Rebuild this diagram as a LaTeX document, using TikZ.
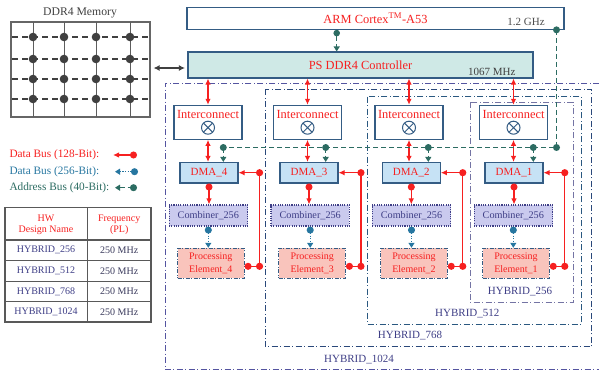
\documentclass[tikz,border=0pt]{standalone}
\usepackage{fontspec}
\setmainfont{Liberation Serif}
\usetikzlibrary{arrows.meta}

\definecolor{busred}{RGB}{246,32,32}
\definecolor{addrteal}{RGB}{44,108,98}
\definecolor{bus256}{RGB}{38,118,160}
\definecolor{boxedge}{RGB}{52,92,132}
\definecolor{navy}{RGB}{62,62,134}
\definecolor{slate}{RGB}{58,58,92}
\definecolor{dmafill}{RGB}{198,226,245}
\definecolor{cmbfill}{RGB}{202,202,238}
\definecolor{pefill}{RGB}{249,196,188}
\definecolor{ctrlfill}{RGB}{207,233,230}
\definecolor{memgrey}{RGB}{64,64,64}
\definecolor{hA}{RGB}{84,84,160}
\definecolor{hB}{RGB}{42,72,122}
\definecolor{hC}{RGB}{42,88,128}
\definecolor{hD}{RGB}{116,116,164}

\tikzset{
  rtip/.tip={Latex[length=6pt,width=5.5pt]},
  ttip/.tip={Triangle[length=5pt,width=6pt]},
  rdot/.tip={Circle[length=7pt]},
  sdot/.tip={Circle[length=6.5pt]},
  fs/.style={font=\fontsize{#1}{#1}\selectfont},
  boxbase/.style={draw=boxedge, line width=1.1pt, inner sep=0pt},
  armbox/.style={boxbase, fill=white, minimum width=377pt, minimum height=22pt, text=busred, fs=12.4},
  ctrlbox/.style={boxbase, fill=ctrlfill, minimum width=345pt, minimum height=26pt, text=busred, fs=12.4},
  icbox/.style={boxbase, fill=white, minimum width=68pt, minimum height=34pt},
  ictext/.style={inner sep=0pt, text=busred, fs=12.4},
  otimes/.style={circle, draw=boxedge, line width=1pt, minimum size=13pt, inner sep=0pt,
    path picture={\draw[boxedge, line width=1pt]
      (path picture bounding box.north west) -- (path picture bounding box.south east)
      (path picture bounding box.north east) -- (path picture bounding box.south west);}},
  dmabox/.style={boxbase, fill=dmafill, minimum width=58pt, minimum height=20.5pt, text=busred, fs=11},
  cmbbox/.style={draw=navy, line width=1.1pt, dash pattern=on 1.1pt off 1.2pt, fill=cmbfill,
    minimum width=78.5pt, minimum height=21pt, inner sep=0pt, text=navy, fs=10.2},
  pebox/.style={draw=boxedge, line width=1pt, dash pattern=on 4pt off 1.5pt on 1pt off 1.5pt,
    fill=pefill, minimum width=66.5pt, minimum height=30pt, inner sep=0pt, text=busred,
    align=center, font=\fontsize{10}{12.5}\selectfont},
  membox/.style={draw=memgrey!80, line width=1.1pt, fill=white, minimum width=139pt, minimum height=95pt, inner sep=0pt},
  hyb/.style={line width=1pt, dash pattern=on 6pt off 2.5pt on 1pt off 2.5pt},
  hyblabel/.style={inner sep=0pt, text=navy, fs=11},
  redbus/.style={draw=busred, line width=1.1pt},
  addrline/.style={draw=addrteal, line width=1.1pt, dash pattern=on 5pt off 3pt},
  bus256line/.style={draw=bus256, line width=1.1pt, dash pattern=on 1.2pt off 1.4pt},
  legtext/.style={anchor=west, inner sep=0pt, fs=11.3},
  tbl/.style={draw=black!65, line width=1.3pt},
  cell/.style={inner sep=0pt, fs=10, align=center},
}

\begin{document}
\begin{tikzpicture}[x=1pt,y=-1pt]
\useasboundingbox (0,0) rectangle (599,375);

% nested accelerator regions
\draw[hyb, hA] (599,83) -- (165,83) -- (165,369.5) -- (599,369.5);
\draw[hyb, hB] (265,89.3) rectangle (591.7,346.7);
\draw[hyb, hC] (367.3,96.7) rectangle (581.7,324.3);
\draw[hyb, hD] (470,102.3) rectangle (573.3,302.7);
\node[hyblabel] (h1024) at (359,359.3) {HYBRID\_1024};
\node[hyblabel] (h768) at (410,336) {HYBRID\_768};
\node[hyblabel] (h512) at (467.3,314) {HYBRID\_512};
\node[hyblabel] (h256) at (520,291.3) {HYBRID\_256};

% off-chip memory
\node[inner sep=0pt, text=black!75, fs=11.7] (memt) at (80,13) {DDR4 Memory};
\node[membox] (mem) at (80.5,69.5) {};
\foreach \x in {33,64,96,130} \draw[memgrey!85, line width=1pt] (\x,22) -- (\x,117);
\foreach \y in {37,59,79,99} \draw[memgrey, line width=1.2pt, dash pattern=on 6pt off 4pt] (12,\y) -- (149,\y);
\foreach \x in {33,64,96,130} \foreach \y in {37,59,79,99} \fill[memgrey] (\x,\y) circle (4.3pt);

% processing system
\node[armbox] (arm) at (375.5,18.3) {ARM Cortex\textsuperscript{TM}-A53};
\node[inner sep=0pt, text=black!70, fs=11] (armf) at (526,21.5) {1.2 GHz};
\node[ctrlbox] (ctrl) at (360.5,65) {PS DDR4 Controller};
\node[inner sep=0pt, text=black!75, fs=11] (ctrlf) at (491.7,71.7) {1067 MHz};

\draw[memgrey, line width=1.6pt, {Latex[length=6pt,width=6pt]}-{Latex[length=6pt,width=6pt]},
  shorten <=3pt, shorten >=2.5pt] (mem.east |- 0,68) -- (ctrl.west |- 0,68);
\draw[addrline, sdot-ttip] (arm.south -| 336.7,0) -- (ctrl.north -| 336.7,0);

% columns: interconnect, DMA, combiner, processing element
\foreach \i/\xi/\xd/\xc/\xp/\xa in {4/208/209/208.3/210.8/223.3, 3/307.5/309/310.2/312.2/325.7,
                                   2/409/411.3/411.5/414/428.3, 1/513.5/514/513.3/516/533.3} {
  \node[icbox] (ic\i) at (\xi,122.3) {};
  \node[ictext] (ict\i) at (\xi,114) {Interconnect};
  \node[otimes] (icx\i) at (\xi,127.7) {};
  \node[dmabox] (dma\i) at (\xd,172.7) {DMA\_\i};
  \node[cmbbox] (cmb\i) at (\xc,215.5) {Combiner\_256};
  \node[pebox] (pe\i) at (\xp,263.3) {Processing\\Element\_\i};
  \coordinate (a\i) at (\xa,147.5);
  \draw[redbus, rtip-rtip] (ic\i.north |- ctrl.south) -- (ic\i.north);
  \draw[redbus, rtip-rtip] (ic\i.south) -- (ic\i.south |- dma\i.north);
  \draw[redbus, rdot-rtip] (dma\i.south) -- (dma\i.south |- cmb\i.north);
  \draw[bus256line, rdot-ttip] (cmb\i.south) -- (cmb\i.south |- pe\i.north);
  \draw[redbus, rdot-rtip] ([yshift=-3pt]pe\i.east) -- ++(15,0) coordinate (lb\i)
    |- (dma\i.east) coordinate[pos=0.5] (lt\i);
  \fill[busred] (lb\i) circle (3.6pt);
  \fill[busred] (lt\i) circle (3.6pt);
  \draw[addrline, -ttip] (a\i) -- (a\i |- dma\i.north);
  \fill[addrteal] (a\i) circle (3.5pt);
}

% address bus from the ARM core to every DMA
\coordinate (abr) at (556.5,147.5);
\coordinate (atop) at (arm.south -| abr);
\draw[addrline] (atop) -- (abr) -- (a4);
\fill[addrteal] (atop) circle (3.5pt);
\fill[addrteal] (abr) circle (3.5pt);

% legend
\node[legtext, text=busred] (leg1) at (9.3,155) {Data Bus (128-Bit):};
\node[legtext, text=bus256] (leg2) at (9.3,171.7) {Data Bus (256-Bit):};
\node[legtext, text=addrteal] (leg3) at (9.3,187.7) {Address Bus (40-Bit):};
\coordinate (l1a) at (113,155);   \coordinate (l1b) at (137,155);
\coordinate (l2a) at (115,171.7); \coordinate (l2b) at (138,171.7);
\coordinate (l3a) at (115,187.7); \coordinate (l3b) at (137,187.7);
\draw[redbus, rtip-rdot] (l1a) -- (l1b);
\draw[bus256line, ttip-rdot] (l2a) -- (l2b);
\draw[addrline, ttip-rdot] (l3a) -- (l3b);

% design table
\draw[tbl] (5,207.3) rectangle (151,322);
\draw[tbl] (87.3,207.3) -- (87.3,322);
\foreach \y in {240,260.7,281.3,301.7} \draw[tbl] (5,\y) -- (151,\y);
\node[cell, text=busred, font=\fontsize{10}{11.5}\selectfont] (th1) at (46,225) {HW\\Design Name};
\node[cell, text=busred, font=\fontsize{10}{11.5}\selectfont] (th2) at (119.2,225) {Frequency\\(PL)};
\foreach \n/\y in {256/250.3, 512/271, 768/291.5, 1024/311.8} {
  \node[cell, text=navy] (tn\n) at (46,\y) {HYBRID\_\n};
  \node[cell, text=slate] (tf\n) at (119.2,\y) {250 MHz};
}
\end{tikzpicture}
\end{document}
